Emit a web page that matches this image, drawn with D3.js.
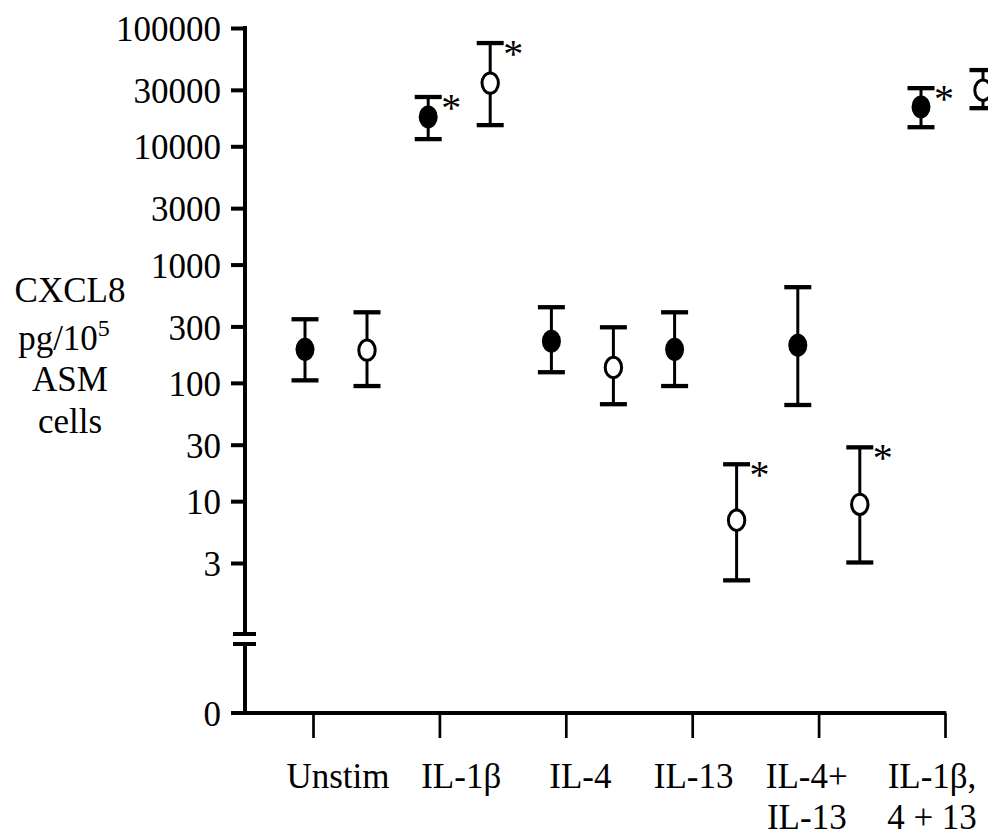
<!DOCTYPE html>
<html>
<head>
<meta charset="utf-8">
<script src="https://cdn.jsdelivr.net/npm/d3@7"></script>
<style>
  html, body { margin: 0; padding: 0; background: #fff; }
  svg { display: block; }
  text { font-family: "Liberation Serif", "Times New Roman", serif; fill: #000; }
</style>
</head>
<body>
<svg id="chart" width="988" height="839"></svg>
<script>
// ---------------- data ----------------
const categories = ["Unstim", "IL-1β", "IL-4", "IL-13", "IL-4+\nIL-13", "IL-1β,\n4 + 13"];
// filled circles (mean, upper, lower) pg/10^5 cells
const filledMean  = [192, 17700, 225, 192, 208, 21500];
const filledUpper = [345, 26100, 436, 395, 644, 31000];
const filledLower = [105, 11500, 123, 94, 65, 14500];
const filledSig   = [false, true, false, false, false, true];
// open circles
const openMean  = [189, 34200, 135, 6.9, 9.4, 29800];
const openUpper = [395, 74600, 295, 20.5, 28.5, 44100];
const openLower = [94, 15100, 66, 2.14, 3.03, 21000];
const openSig   = [false, true, false, true, true, false];
const yTickValues = [100000, 30000, 10000, 3000, 1000, 300, 100, 30, 10, 3];
const yTitleLines = ["CXCL8", "pg/10", "ASM", "cells"];

// ---------------- layout ----------------
const W = 988, H = 839;
const axisX = 245, yTop = 28, yBottom = 563, yBreakTop = 634, yBreakBot = 644, yZero = 713;
const labelNudge = [2, 2, -2, -12, -22, -20];
const FONT = 35;

const svg = d3.select("#chart");
svg.append("rect").attr("width", W).attr("height", H).attr("fill", "#fff");

const y = d3.scaleLog().domain([3, 100000]).range([yBottom, yTop]);
const xTick = d3.scalePoint().domain(categories).range([313, 945]);
const xFilled = d3.scalePoint().domain(categories).range([305, 921]);
const openOffset = 62;

// ---- Y axis ----
const yAxis = d3.axisLeft(y).tickValues(yTickValues).tickFormat(d3.format("d")).tickSize(14).tickPadding(10);
const gy = svg.append("g").attr("transform", `translate(${axisX},0)`).call(yAxis);
gy.select(".domain").remove();
gy.selectAll(".tick line").attr("stroke", "#000").attr("stroke-width", 4);
gy.selectAll(".tick text").attr("font-size", FONT).attr("font-family", "Liberation Serif, Times New Roman, serif").attr("dy", "0.36em");

// zero tick
svg.append("line").attr("x1", axisX - 14).attr("x2", axisX).attr("y1", yZero).attr("y2", yZero)
  .attr("stroke", "#000").attr("stroke-width", 4);
svg.append("text").attr("x", axisX - 24).attr("y", yZero).attr("dy", "0.36em")
  .attr("text-anchor", "end").attr("font-size", FONT).text("0");

// axis line segments with break
svg.append("line").attr("x1", axisX).attr("x2", axisX).attr("y1", yTop - 2).attr("y2", yBreakTop)
  .attr("stroke", "#000").attr("stroke-width", 4);
svg.append("line").attr("x1", axisX).attr("x2", axisX).attr("y1", yBreakBot).attr("y2", yZero + 2)
  .attr("stroke", "#000").attr("stroke-width", 4);
[yBreakTop, yBreakBot].forEach(by => {
  svg.append("line").attr("x1", axisX - 12).attr("x2", axisX + 11).attr("y1", by).attr("y2", by)
    .attr("stroke", "#000").attr("stroke-width", 4);
});

// ---- X axis ----
const xAxis = d3.axisBottom(xTick).tickSize(25).tickFormat("");
const gx = svg.append("g").attr("transform", `translate(0,${yZero})`).call(xAxis);
gx.select(".domain").remove();
gx.selectAll(".tick line").attr("stroke", "#000").attr("stroke-width", 2.7);
svg.append("line").attr("x1", axisX - 14).attr("x2", xTick(categories[categories.length - 1]) + 1.3)
  .attr("y1", yZero).attr("y2", yZero).attr("stroke", "#000").attr("stroke-width", 4);

// category labels
categories.forEach((c, i) => {
  const cx = xFilled(c) + openOffset / 2 + labelNudge[i];
  const t = svg.append("text").attr("text-anchor", "middle").attr("font-size", FONT);
  c.split("\n").forEach((line, j) => {
    t.append("tspan").attr("x", cx).attr("y", 788 + j * 41).text(line);
  });
});

// y title
const titleX = 70;
const titleY = [302, 350, 391, 433];
yTitleLines.forEach((line, i) => {
  const t = svg.append("text").attr("text-anchor", "middle").attr("font-size", FONT)
    .attr("x", titleX + (i === 1 ? -6 : 0)).attr("y", titleY[i]).text(line);
  if (i === 1) t.append("tspan").attr("font-size", 24).attr("dy", -14).text("5");
});

// ---- data marks ----
function drawSeries(mean, upper, lower, sig, xOff, filled) {
  const g = svg.append("g");
  categories.forEach((c, i) => {
    const cx = xFilled(c) + xOff;
    const yu = y(upper[i]), yl = y(lower[i]), ym = y(mean[i]);
    g.append("line").attr("x1", cx).attr("x2", cx).attr("y1", yu).attr("y2", yl)
      .attr("stroke", "#000").attr("stroke-width", 3);
    [yu, yl].forEach(yy => {
      g.append("line").attr("x1", cx - 13.5).attr("x2", cx + 13.5).attr("y1", yy).attr("y2", yy)
        .attr("stroke", "#000").attr("stroke-width", 4.3);
    });
    g.append("ellipse").attr("cx", cx).attr("cy", ym)
      .attr("rx", filled ? 9.5 : 8.2).attr("ry", filled ? 11.5 : 10.2)
      .attr("fill", filled ? "#000" : "#fff").attr("stroke", "#000").attr("stroke-width", filled ? 0 : 3);
    if (sig[i]) {
      g.append("text").attr("x", cx + 23).attr("y", yu + 24).attr("text-anchor", "middle")
        .attr("font-size", 40).text("*");
    }
  });
}
drawSeries(filledMean, filledUpper, filledLower, filledSig, 0, true);
drawSeries(openMean, openUpper, openLower, openSig, openOffset, false);
</script>
</body>
</html>
